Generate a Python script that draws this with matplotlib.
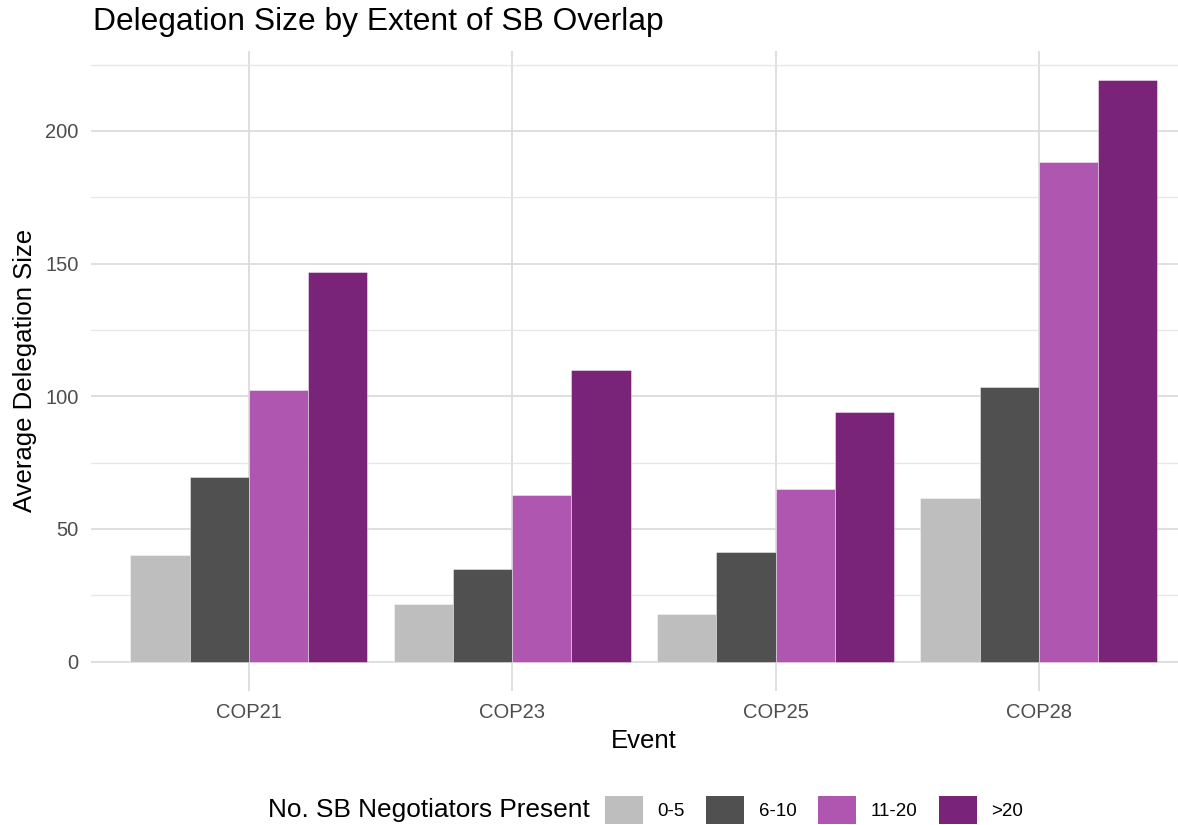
import matplotlib
matplotlib.use('Agg')
import matplotlib.pyplot as plt
from matplotlib.ticker import MultipleLocator
from matplotlib.patches import Patch
import numpy as np

plt.rcParams['font.family'] = ['Liberation Sans', 'DejaVu Sans']

events = ['COP21', 'COP23', 'COP25', 'COP28']
groups = ['0-5', '6-10', '11-20', '>20']
size_0_5 = [40.2, 21.7, 17.8, 61.5]
size_6_10 = [69.4, 34.7, 41.1, 103.4]
size_11_20 = [102.3, 62.6, 64.9, 188.2]
size_gt20 = [146.8, 110.0, 94.0, 219.2]
colors = ['#BEBEBE', '#505050', '#AF57B0', '#7A2479']

series = [size_0_5, size_6_10, size_11_20, size_gt20]

W, H = 1178, 825
fig = plt.figure(figsize=(W / 100, H / 100), dpi=100)
# panel runs past the right edge like in the original
ax = fig.add_axes([90.9 / W, 1 - 690.6 / H, 1106 / W, 639.7 / H])

x = np.arange(1, len(events) + 1)
bw = 0.9 / len(groups)
for i, vals in enumerate(series):
    off = (i - (len(groups) - 1) / 2) * bw
    ax.bar(x + off, vals, width=bw, color=colors[i],
           edgecolor=(1, 1, 1, 0.5), linewidth=0.6, zorder=3)

ymax = max(max(s) for s in series)
ax.set_xlim(0.4, 4.6)
ax.set_ylim(-0.05 * ymax, 1.05 * ymax)
ax.set_xticks(x)
ax.set_xticklabels(events)
ax.yaxis.set_major_locator(MultipleLocator(50))
ax.yaxis.set_minor_locator(MultipleLocator(25))

ax.grid(which='major', axis='both', color='#dcdcdc', linewidth=1.3, zorder=0)
ax.grid(which='minor', axis='y', color='#e6e6e6', linewidth=0.9, zorder=0)
ax.set_axisbelow(True)
for s in ax.spines.values():
    s.set_visible(False)
ax.tick_params(axis='both', which='both', length=0, labelsize=14.5,
               labelcolor='#4d4d4d')
ax.tick_params(axis='x', pad=9)
ax.tick_params(axis='y', pad=9)

ax.set_xlabel('Event', fontsize=18.5, labelpad=5)
ax.set_ylabel('Average Delegation Size', fontsize=18.5, labelpad=6)
fig.text(93 / W, 1 - 22 / H, 'Delegation Size by Extent of SB Overlap',
         fontsize=22.9, ha='left', va='center')

# legend with title on the left, like ggplot bottom legend
fig.text(268 / W, 1 - 810 / H, 'No. SB Negotiators Present', fontsize=18.9,
         ha='left', va='center')
handles = [Patch(facecolor=c, edgecolor='none') for c in colors]
fig.legend(handles, groups, loc='center left',
           bbox_to_anchor=(605 / W, 1 - 810 / H), ncol=4, frameon=False,
           fontsize=13.5, handlelength=2.0, handleheight=2.0,
           handletextpad=0.8, columnspacing=1.15, borderpad=0, borderaxespad=0)

fig.savefig('out.png', dpi=100)
